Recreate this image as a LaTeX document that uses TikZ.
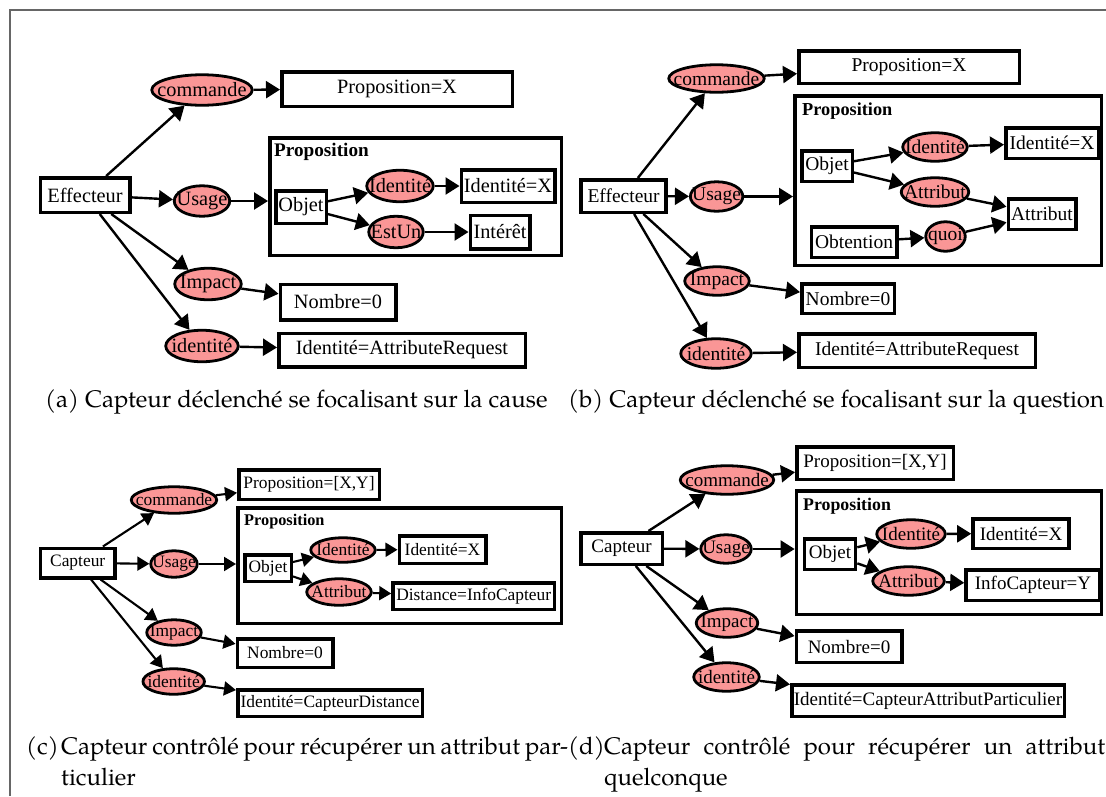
\documentclass[tikz,border=0pt]{standalone}
\usepackage{fontspec}
\newfontfamily\tms{Liberation Serif}
\newfontfamily\capfont{TeX Gyre Pagella}
\usetikzlibrary{shapes.geometric,arrows.meta}
\definecolor{elfill}{RGB}{250,150,150}
\newcommand\zb[1]{\makebox[0pt][c]{#1}}
\tikzset{
  bx/.style={draw, line width=3.5pt, rectangle, inner sep=0pt},
  el/.style={draw, line width=2.8pt, ellipse, fill=elfill, inner sep=0pt},
  wh/.style n args={2}{minimum width={#1pt-3.5pt}, minimum height={#2pt-3.5pt}},
  ar/.style={-{Triangle[length=14pt,width=17pt]}, line width=2.4pt},
  arc/.style={-{Triangle[length=12pt,width=14pt]}, line width=2.1pt},
  lab/.style={anchor=west, inner sep=0pt},
  captxt/.style={anchor=base west, inner sep=0pt, font=\capfont\fontsize{24}{31}\selectfont},
}
\begin{document}
\begin{tikzpicture}[x=1pt,y=-1pt]
\useasboundingbox (0,0) rectangle (1106,796);
\draw[line width=1.5pt, black!60] (10,796) -- (10,10) -- (1106,10);

% ---------------- panel (a)
\begin{scope}[every node/.append style={font=\tms\fontsize{20.3}{24}\selectfont}]
\node[bx, wh={93}{38}] (eA) at (85,195) {Effecteur};
\node[el, wh={104}{34}] (cmdA) at (202,90) {\zb{commande}};
\node[bx, wh={234}{38}] (pxA) at (397,89) {Proposition=X};
\node[el, wh={59}{34}] (usA) at (202,201) {\zb{Usage}};
\node[bx, wh={295}{121}] (ctA) at (415.5,196.5) {};
\node[lab] (plA) at (274,152) {\fontsize{19.2}{22}\selectfont\bfseries Proposition};
\node[bx, wh={54}{36}] (obA) at (301,207) {Objet};
\node[el, wh={70}{35}] (ieA) at (400,186) {\zb{Identité}};
\node[bx, wh={97}{36}] (ixA) at (508,186) {Identité=X};
\node[el, wh={58}{35}] (esA) at (396,232) {\zb{EstUn}};
\node[bx, wh={63}{37}] (inA) at (500,232) {Intérêt};
\node[el, wh={70}{35}] (imA) at (208,284) {\zb{Impact}};
\node[bx, wh={119}{39}] (nbA) at (338,302) {Nombre=0};
\node[el, wh={76}{35}] (itA) at (202,346) {\zb{identité}};
\node[bx, wh={250}{37}] (iaA) at (402,350) {Identité=AttributeRequest};
\end{scope}
\draw[ar] (eA) -- (cmdA);
\draw[ar] (eA) -- (usA);
\draw[ar] (usA) -- (usA -| ctA.west);
\draw[ar] (eA) -- (imA);
\draw[ar] (eA) -- (itA);
\draw[ar] (cmdA) -- (pxA);
\draw[ar] (imA) -- (nbA);
\draw[ar] (itA) -- (iaA);
\draw[ar] (obA) -- (ieA);
\draw[ar] (obA) -- (esA);
\draw[ar] (ieA) -- (ixA);
\draw[ar] (esA) -- (inA);

% ---------------- panel (b)
\begin{scope}[every node/.append style={font=\tms\fontsize{19.5}{23}\selectfont}]
\node[bx, wh={88.6}{36}] (eB) at (623.6,196) {Effecteur};
\node[el, wh={99}{31}] (cmdB) at (716.5,78.5) {\zb{commande}};
\node[bx, wh={224}{36}] (pxB) at (909,67) {Proposition=X};
\node[el, wh={56}{33}] (usB) at (716.6,196.5) {\zb{Usage}};
\node[bx, wh={310}{173}] (ctB) at (948,180.5) {};
\node[lab] (plB) at (802,111) {\fontsize{18.3}{22}\selectfont\bfseries Proposition};
\node[bx, wh={54}{34}] (obB) at (827,166) {Objet};
\node[el, wh={68}{32}] (ieB) at (935,147) {\zb{Identité}};
\node[bx, wh={96}{34}] (ixB) at (1052,143) {Identité=X};
\node[el, wh={71}{32}] (aeB) at (935,192) {\zb{Attribut}};
\node[bx, wh={71}{34}] (abB) at (1042,214) {Attribut};
\node[bx, wh={89}{34}] (otB) at (854,242) {Obtention};
\node[el, wh={43}{33}] (qoB) at (945.5,236.5) {\zb{quoi}};
\node[el, wh={68}{32}] (imB) at (717,281) {\zb{Impact}};
\node[bx, wh={96}{33}] (nbB) at (848,298.5) {Nombre=0};
\node[el, wh={74}{33}] (itB) at (716,353.5) {\zb{identité}};
\node[bx, wh={240}{37}] (iaB) at (917,350.5) {Identité=AttributeRequest};
\end{scope}
\draw[ar] (eB) -- (cmdB);
\draw[ar] (eB) -- (usB);
\draw[ar] (usB) -- (usB -| ctB.west);
\draw[ar] (eB) -- (imB);
\draw[ar] (eB) -- (itB);
\draw[ar] (cmdB) -- (pxB);
\draw[ar] (imB) -- (nbB);
\draw[ar] (itB) -- (iaB);
\draw[ar] (obB) -- (ieB);
\draw[ar] (obB) -- (aeB);
\draw[ar] (ieB) -- (ixB);
\draw[ar] (aeB) -- (abB);
\draw[ar] (otB) -- (qoB);
\draw[ar] (qoB) -- (abB);

% ---------------- panel (c)
\begin{scope}[every node/.append style={font=\tms\fontsize{17.4}{21}\selectfont}]
\node[bx, wh={78}{33}] (eC) at (77.7,563) {Capteur};
\node[el, wh={89}{30}] (cmdC) at (174,500) {\zb{commande}};
\node[bx, wh={144}{33}] (pxC) at (309,484.5) {Proposition=[X,Y]};
\node[el, wh={50}{30}] (usC) at (174,564) {\zb{Usage}};
\node[bx, wh={327}{119}] (ctC) at (399.5,565.5) {};
\node[lab] (plC) at (244,522) {\fontsize{16.3}{20}\selectfont\bfseries Proposition};
\node[bx, wh={50}{30}] (obC) at (268,568) {Objet};
\node[el, wh={68}{28}] (ieC) at (343,550) {\zb{Identité}};
\node[bx, wh={90}{31}] (ixC) at (442.5,549.5) {Identité=X};
\node[el, wh={68}{30}] (aeC) at (339,592) {\zb{Attribut}};
\node[bx, wh={165}{30}] (dsC) at (473.7,596) {Distance=InfoCapteur};
\node[el, wh={58}{29}] (imC) at (174,632.5) {\zb{Impact}};
\node[bx, wh={99}{32}] (nbC) at (285,653) {Nombre=0};
\node[el, wh={65}{29}] (itC) at (173.7,681.5) {\zb{identité}};
\node[bx, wh={188}{30}] (icC) at (330,703) {Identité=CapteurDistance};
\end{scope}
\draw[arc] (eC) -- (cmdC);
\draw[arc] (eC) -- (usC);
\draw[arc] (usC) -- (usC -| ctC.west);
\draw[arc] (eC) -- (imC);
\draw[arc] (eC) -- (itC);
\draw[arc] (cmdC) -- (pxC);
\draw[arc] (imC) -- (nbC);
\draw[arc] (itC) -- (icC);
\draw[arc] (obC) -- (ieC);
\draw[arc] (obC) -- (aeC);
\draw[arc] (ieC) -- (ixC);
\draw[arc] (aeC) -- (dsC);

% ---------------- panel (d)
\begin{scope}[every node/.append style={font=\tms\fontsize{19}{23}\selectfont}]
\node[bx, wh={85}{35}] (eD) at (621.5,548.5) {Capteur};
\node[el, wh={97}{32}] (cmdD) at (727,480) {\zb{commande}};
\node[bx, wh={160}{36}] (pxD) at (875,463) {Proposition=[X,Y]};
\node[el, wh={54}{32}] (usD) at (726,549) {\zb{Usage}};
\node[bx, wh={308.4}{127}] (ctD) at (948.8,552.5) {};
\node[lab] (plD) at (803,506) {\fontsize{17.8}{21}\selectfont\bfseries Proposition};
\node[bx, wh={54.6}{34}] (obD) at (830,554) {Objet};
\node[el, wh={72}{32}] (ieD) at (911,534) {\zb{Identité}};
\node[bx, wh={99.6}{33}] (ixD) at (1021,533.5) {Identité=X};
\node[el, wh={75}{32}] (aeD) at (908.5,581) {\zb{Attribut}};
\node[bx, wh={137.5}{34}] (icD) at (1033,585) {InfoCapteur=Y};
\node[el, wh={65}{32}] (imD) at (727,623) {\zb{Impact}};
\node[bx, wh={109}{35}] (nbD) at (849,646.5) {Nombre=0};
\node[el, wh={69}{32}] (itD) at (726.5,677) {\zb{identité}};
\node[bx, wh={276}{35}] (iaD) at (928,700.5) {\zb{Identité=CapteurAttributParticulier}};
\end{scope}
\draw[ar] (eD) -- (cmdD);
\draw[ar] (eD) -- (usD);
\draw[ar] (usD) -- (usD -| ctD.west);
\draw[ar] (eD) -- (imD);
\draw[ar] (eD) -- (itD);
\draw[ar] (cmdD) -- (pxD);
\draw[ar] (imD) -- (nbD);
\draw[ar] (itD) -- (iaD);
\draw[ar] (obD) -- (ieD);
\draw[ar] (obD) -- (aeD);
\draw[ar] (ieD) -- (ixD);
\draw[ar] (aeD) -- (icD);

% ---------------- captions
\node[captxt] (capA) at (45,407) {(a) Capteur déclenché se focalisant sur la cause};
\node[captxt] (capB) at (568,407) {(b) Capteur déclenché se focalisant sur la question};
\node[captxt] (capC) at (26,754) {(c)};
\node[captxt] (capC1) at (61,754) {\makebox[507pt][s]{Capteur contrôlé pour récupérer un attribut par-}};
\node[captxt] (capC2) at (61,785) {ticulier};
\node[captxt] (capD) at (568,754) {(d)};
\node[captxt] (capD1) at (604,754) {\makebox[501pt][s]{Capteur contrôlé pour récupérer un attribut}};
\node[captxt] (capD2) at (604,785) {quelconque};
\end{tikzpicture}
\end{document}
